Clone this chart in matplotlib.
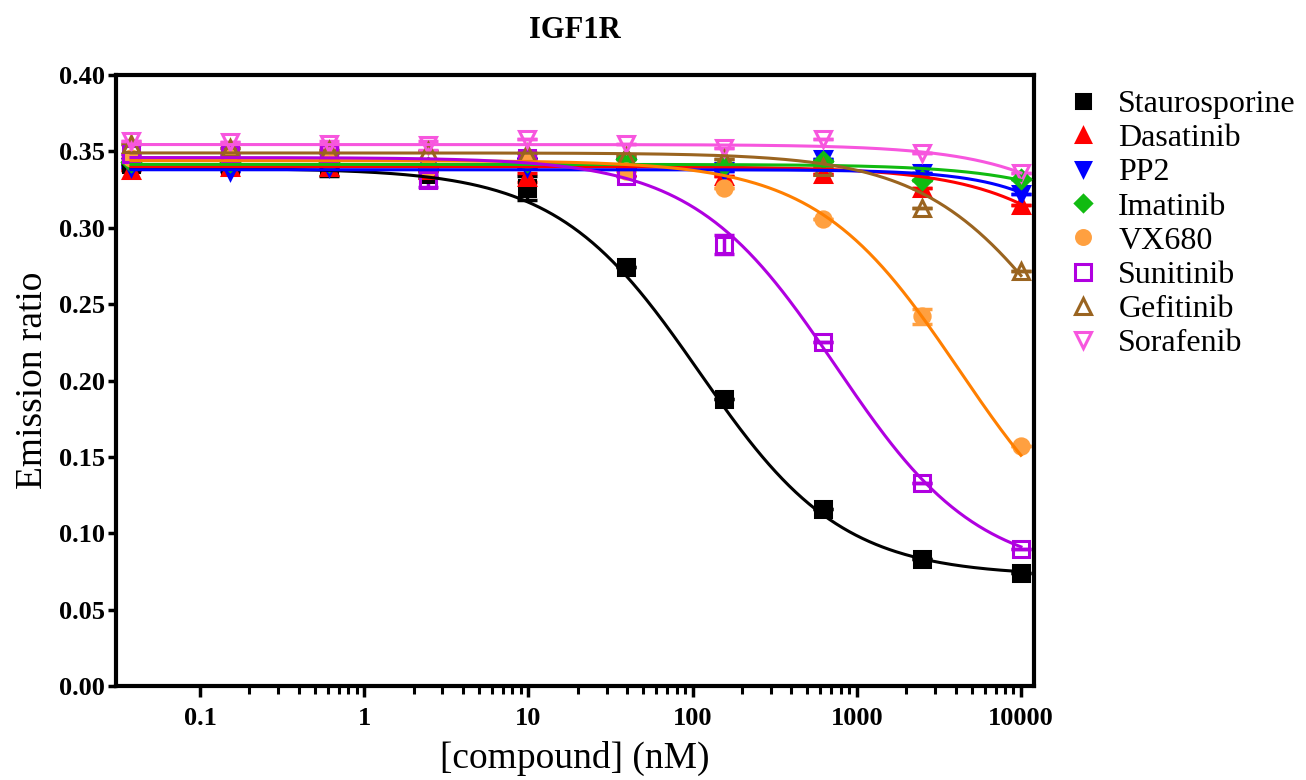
import numpy as np
import matplotlib
matplotlib.use("Agg")
import matplotlib.pyplot as plt
from matplotlib.lines import Line2D
from matplotlib.ticker import FixedLocator, NullFormatter

plt.rcParams['font.family'] = ['Liberation Serif', 'DejaVu Serif']

# concentrations (nM), 4-fold dilution series
conc = [0.038, 0.153, 0.61, 2.44, 9.77, 39.1, 156, 625, 2500, 10000]

compounds = ["Staurosporine", "Dasatinib", "PP2", "Imatinib",
             "VX680", "Sunitinib", "Gefitinib", "Sorafenib"]

staurosporine = [0.342, 0.341, 0.339, 0.335, 0.326, 0.274, 0.188, 0.116, 0.083, 0.074]
dasatinib = [0.338, 0.340, 0.340, 0.338, 0.333, 0.340, 0.334, 0.335, 0.326, 0.315]
pp2 = [0.340, 0.337, 0.340, 0.340, 0.340, 0.340, 0.337, 0.345, 0.336, 0.322]
imatinib = [0.343, 0.343, 0.343, 0.340, 0.343, 0.345, 0.341, 0.344, 0.331, 0.332]
vx680 = [0.346, 0.346, 0.346, 0.339, 0.345, 0.337, 0.326, 0.306, 0.242, 0.157]
sunitinib = [0.348, 0.348, 0.349, 0.331, 0.346, 0.334, 0.289, 0.225, 0.133, 0.090]
gefitinib = [0.355, 0.352, 0.351, 0.350, 0.349, 0.347, 0.345, 0.340, 0.313, 0.272]
sorafenib = [0.357, 0.356, 0.355, 0.354, 0.358, 0.355, 0.352, 0.358, 0.349, 0.336]

# standard errors (only a few visible)
err_staurosporine = [0, 0, 0.005, 0.002, 0.008, 0, 0, 0, 0, 0]
err_dasatinib = [0, 0, 0, 0, 0.003, 0, 0, 0, 0, 0]
err_pp2 = [0] * 10
err_imatinib = [0] * 10
err_vx680 = [0, 0, 0, 0, 0, 0, 0, 0, 0.005, 0]
err_sunitinib = [0, 0, 0, 0.004, 0, 0, 0.006, 0, 0, 0]
err_gefitinib = [0] * 10
err_sorafenib = [0, 0, 0.002, 0.003, 0, 0, 0, 0, 0, 0]

# fitted sigmoid parameters: top, bottom, IC50 (nM), hill slope
fit_top = [0.339, 0.340, 0.338, 0.3415, 0.344, 0.346, 0.349, 0.3545]
fit_bottom = [0.072, 0.070, 0.070, 0.070, 0.070, 0.072, 0.100, 0.070]
fit_ic50 = [110, 100000, 88000, 250000, 4200, 750, 21000, 143000]
fit_hill = [1.0, 1.0, 1.3, 1.0, 1.0, 1.0, 1.0, 1.0]

values = [staurosporine, dasatinib, pp2, imatinib, vx680, sunitinib, gefitinib, sorafenib]
errors = [err_staurosporine, err_dasatinib, err_pp2, err_imatinib,
          err_vx680, err_sunitinib, err_gefitinib, err_sorafenib]

marker_colors = ["#000000", "#FF0000", "#0000FF", "#11BB11",
                 "#FFA040", "#B000E0", "#9A6420", "#F756DE"]
line_colors = ["#000000", "#FF0000", "#0000FF", "#11BB11",
               "#FF7F00", "#B000E0", "#9A6420", "#F756DE"]
markers = ["s", "^", "v", "D", "o", "s", "^", "v"]
filled = [True, True, True, True, True, False, False, False]
msizes = [11, 11, 11, 9, 11, 12, 12, 12]


def logistic(x, top, bottom, ic50, hill):
    return bottom + (top - bottom) / (1 + (x / ic50) ** hill)


fig = plt.figure(figsize=(13.06, 7.8), dpi=100)
ax = fig.add_axes([0.0888, 0.1205, 0.7029, 0.7833])

xs = np.logspace(np.log10(conc[0]), np.log10(conc[-1]), 400)
handles = []
for i, name in enumerate(compounds):
    mc = marker_colors[i]
    face = mc if filled[i] else "none"
    ax.errorbar(conc, values[i], yerr=errors[i], fmt="none", ecolor=mc,
                elinewidth=2.5, capsize=7, capthick=2.5, zorder=2)
    ax.plot(conc, values[i], linestyle="none", marker=markers[i], markersize=msizes[i],
            markerfacecolor=face, markeredgecolor=mc, markeredgewidth=2.2, zorder=3)
    ax.plot(xs, logistic(xs, fit_top[i], fit_bottom[i], fit_ic50[i], fit_hill[i]),
            color=line_colors[i], linewidth=2.2, zorder=4)
    handles.append(Line2D([], [], linestyle="none", marker=markers[i],
                          markersize=msizes[i] - 1, markerfacecolor=face,
                          markeredgecolor=mc, markeredgewidth=2.2, label=name))

ax.set_xscale("log")
ax.set_xlim(0.0308, 12000)
ax.set_ylim(0, 0.40)

ax.xaxis.set_major_locator(FixedLocator([0.1, 1, 10, 100, 1000, 10000]))
ax.set_xticklabels(["0.1", "1", "10", "100", "1000", "10000"])
minor = [m * 10.0 ** k for k in range(-1, 4) for m in range(2, 10)]
ax.xaxis.set_minor_locator(FixedLocator(minor))
ax.xaxis.set_minor_formatter(NullFormatter())

yt = np.arange(0, 0.401, 0.05)
ax.set_yticks(yt)
ax.set_yticklabels(["%.2f" % v for v in yt])

for s in ax.spines.values():
    s.set_linewidth(3)
ax.tick_params(axis="both", which="major", width=2.5, length=8, direction="out",
               labelsize=19)
ax.tick_params(axis="x", which="minor", width=2.2, length=6, direction="out")
ax.tick_params(axis="x", which="major", pad=7)
ax.tick_params(axis="y", which="major", length=6, pad=2)
for lab in ax.get_xticklabels() + ax.get_yticklabels():
    lab.set_fontweight("bold")

ax.set_xlabel("[compound] (nM)", fontsize=27, labelpad=8)
ax.set_ylabel("Emission ratio", fontsize=27, labelpad=6)
ax.set_title("IGF1R", fontsize=22, fontweight="bold", pad=27)

fig.legend(handles=handles, loc="upper left", bbox_to_anchor=(0.822, 0.885),
           frameon=False, fontsize=23, handlelength=0.6, handletextpad=0.8,
           labelspacing=0.15, borderpad=0, borderaxespad=0)

fig.savefig("out.png", dpi=100)
